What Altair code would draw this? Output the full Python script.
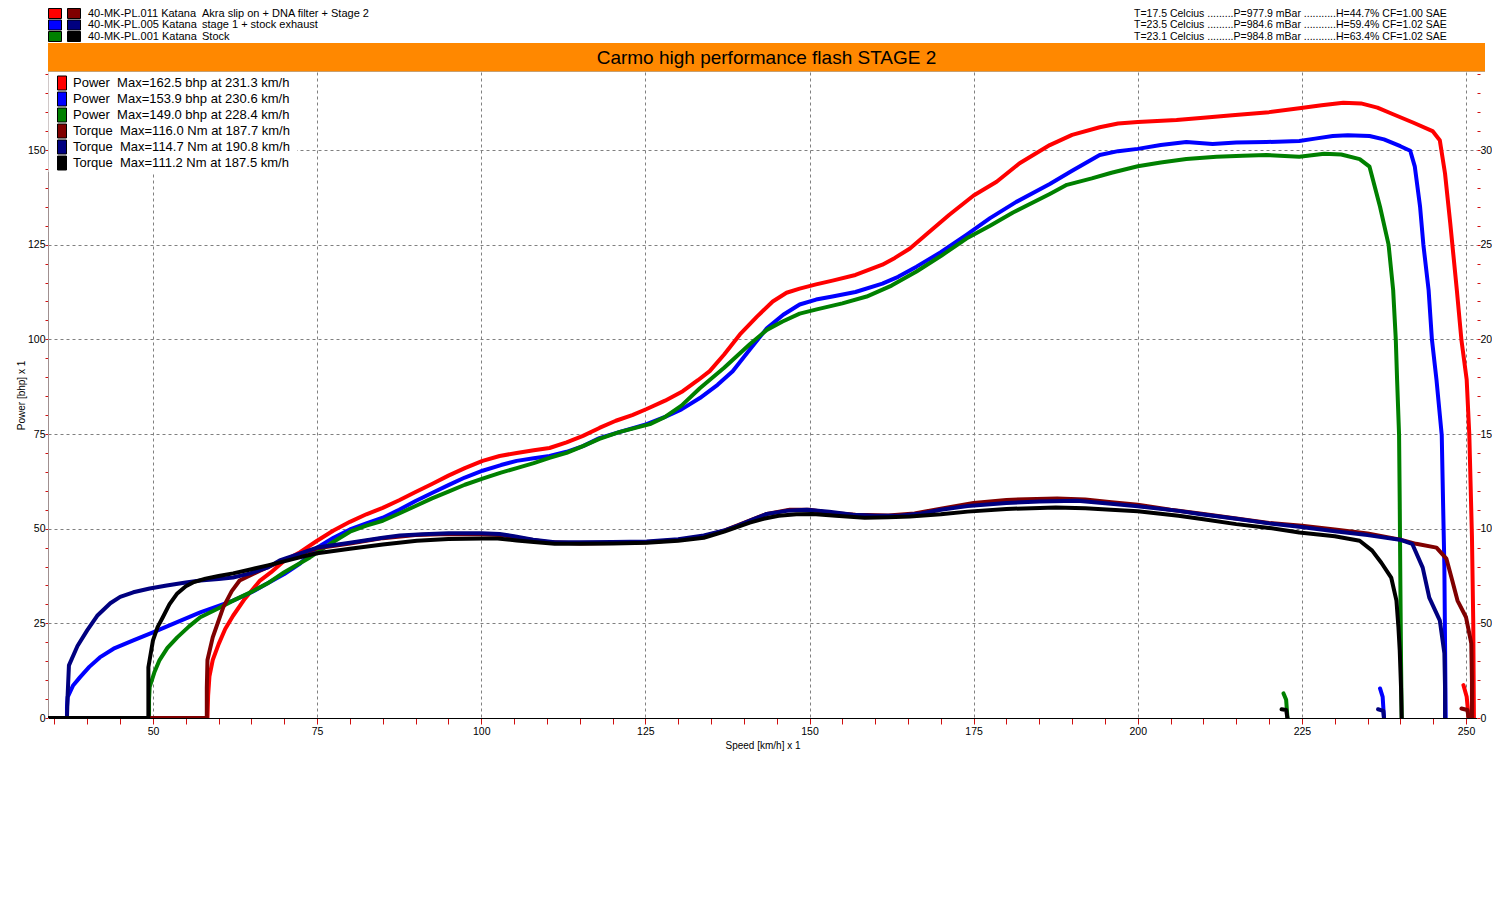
import altair as alt
import pandas as pd

FONT = "Liberation Sans"

# ---------------- header texts ----------------
runs = ["40-MK-PL.011 Katana", "40-MK-PL.005 Katana", "40-MK-PL.001 Katana"]
run_desc = ["Akra slip on + DNA filter + Stage 2", "stage 1 + stock exhaust", "Stock"]
conditions = [
    "T=17.5 Celcius .........P=977.9 mBar ...........H=44.7% CF=1.00 SAE",
    "T=23.5 Celcius .........P=984.6 mBar ...........H=59.4% CF=1.02 SAE",
    "T=23.1 Celcius .........P=984.8 mBar ...........H=63.4% CF=1.02 SAE",
]
power_colors = ["#FF0000", "#0000FF", "#008000"]
torque_colors = ["#800000", "#000080", "#000000"]
title_text = "Carmo high performance flash STAGE 2"

legend_labels = [
    "Power\u00a0 Max=162.5 bhp at 231.3 km/h",
    "Power\u00a0 Max=153.9 bhp at 230.6 km/h",
    "Power\u00a0 Max=149.0 bhp at 228.4 km/h",
    "Torque\u00a0 Max=116.0 Nm at 187.7 km/h",
    "Torque\u00a0 Max=114.7 Nm at 190.8 km/h",
    "Torque\u00a0 Max=111.2 Nm at 187.5 km/h",
]

# ---------------- power curves (km/h, bhp) ----------------
p011_speed = [58.3, 58.4, 58.6, 59.1, 60, 61, 62.2, 64, 66.3, 68, 70, 72.4, 75, 77.5, 80, 82.5, 85, 87.5, 90,
              92.5, 95, 97.5, 100.2, 102.8, 105.4, 108, 110.4, 113, 115.5, 118, 120.5, 123, 125.2, 128, 130.7,
              133, 134.8, 137, 139.4, 142, 144.4, 146.5, 148.5, 151, 153.5, 157, 161.1, 163, 165.3, 168, 171.3,
              175, 178.5, 182, 186.6, 190, 194.2, 197, 200, 205.9, 210, 214.4, 220, 224.6, 228, 231.3, 234,
              236.5, 238.8, 242, 244.9, 246, 246.8, 247.6, 248.6, 249.3, 250.1, 250.5, 250.9, 251.1, 251.2]
p011_bhp = [0, 6, 11, 15.3, 19.5, 23.5, 27, 31.5, 36.3, 38.5, 41.5, 43.8, 46.8, 49.5, 51.8, 53.8, 55.5, 57.5, 59.7,
            61.8, 64, 66, 67.9, 69.2, 70, 70.7, 71.3, 72.8, 74.5, 76.6, 78.5, 80, 81.6, 83.8, 86.3,
            89.2, 91.6, 96, 101.3, 106, 110, 112.3, 113.4, 114.5, 115.5, 117, 119.7, 121.5, 124, 128, 132.9,
            138, 141.6, 146.5, 151.3, 154, 156, 157, 157.4, 157.9, 158.5, 159.2, 160, 161, 161.8, 162.5, 162.3,
            161.2, 159.5, 157.2, 155, 152.6, 143.8, 130.6, 113, 99.8, 89.3, 74.7, 48, 25, 0]

p005_speed = [36.9, 36.9, 37, 37.8, 38.9, 40.3, 41.9, 44, 47, 50, 53.5, 57.2, 60, 62.2, 65, 67.4, 70, 72.4, 75,
              77.5, 80, 82.5, 85, 87.5, 90, 92.5, 95, 97.5, 100.2, 103, 105.4, 108, 110.4, 113, 115.5, 118, 121,
              125.2, 128, 130.5, 133.3, 136, 138.3, 141, 143.5, 146, 148.5, 151, 153.5, 157, 161.1, 163.5, 166.3,
              170, 173.9, 177.5, 181.5, 186.6, 190, 194.2, 197, 200, 203.5, 207.4, 211.4, 215, 219.6, 224.6, 227,
              229.7, 232, 235.3, 237.5, 240, 241.5, 242.2, 243, 243.5, 244.3, 244.8, 245.5, 246.3, 246.5, 246.7,
              246.8, 246.9]
p005_bhp = [0, 3, 5.5, 8.5, 10.8, 13.5, 16, 18.3, 20.5, 22.6, 25.2, 27.9, 29.6, 31, 33.2, 35.5, 38, 40.8, 45,
            47.6, 49.8, 51.4, 52.9, 55, 57.3, 59.4, 61.5, 63.5, 65.3, 66.8, 67.9, 68.6, 69.2, 70.3, 71.8, 73.9, 75.5,
            77.6, 79.5, 81.5, 84.5, 88, 91.6, 97.5, 102.9, 106.5, 109.2, 110.5, 111.3, 112.5, 114.7, 116.5, 119.2,
            123, 127.6, 132, 136.3, 141, 144.5, 148.7, 149.7, 150.3, 151.3, 152.1, 151.6, 152, 152.1, 152.4, 153,
            153.7, 153.9, 153.7, 152.8, 151, 149.8, 145.6, 135, 125, 113, 100, 89.3, 74.7, 57, 40,
            20, 0]

p001_speed = [49.4, 49.4, 49.5, 50.2, 51, 52.2, 53.7, 55.5, 57.2, 60, 62.2, 65, 67.4, 70, 73.9, 77, 80, 82.5, 85,
              87.5, 90, 92.5, 95, 97.5, 100.2, 103, 105.4, 108, 110.4, 113, 115.5, 118, 121, 125.7, 128, 130.5,
              133.3, 137, 140.9, 143.5, 145.9, 148.5, 151.1, 155, 158.7, 162.5, 166.3, 170, 173.9, 177.5, 181,
              186.6, 189.2, 193, 196, 200, 203.5, 207.4, 212, 216, 219.6, 224.6, 228.4, 231, 233.8, 235.3, 236.9,
              238.2, 238.9, 239.3, 239.5, 239.8, 239.9, 240, 240.1, 240.2]
p001_bhp = [0, 5, 8.2, 12, 15.3, 18.5, 21.3, 24.2, 26.6, 29, 31, 33.3, 35.5, 38.5, 42.4, 46, 49.2, 50.8, 52.1,
            54, 56, 58, 59.8, 61.6, 63.2, 64.8, 66, 67.3, 68.7, 70, 71.8, 73.7, 75.5, 77.6, 79.5, 82.5,
            87.1, 92.5, 98.7, 102.5, 104.7, 106.8, 107.9, 109.5, 111.3, 114.2, 117.9, 122, 126.6, 130, 133.5,
            138.4, 140.8, 142.5, 144, 145.7, 146.7, 147.6, 148.2, 148.5, 148.7, 148.2, 149, 148.8, 147.6, 145.6, 135,
            125, 113, 100, 89.3, 74.7, 57, 35, 15, 0]

# short coast-down traces at the bottom
p011_tail_speed = [249.6, 250.1, 250.4]
p011_tail_bhp = [8.7, 5.6, 0]
p005_tail_speed = [236.9, 237.3, 237.5]
p005_tail_bhp = [7.8, 5.6, 0]
p001_tail_speed = [222.2, 222.6, 222.8]
p001_tail_bhp = [6.5, 4.8, 0]

# ---------------- torque curves (km/h, Nm) ----------------
t011_speed = [34, 58.2, 58.2, 58.3, 59.1, 60.7, 62, 63.2, 66.3, 69.8, 72, 75, 80, 85, 90, 95, 100, 103, 106, 110,
              115, 120, 125, 130, 134, 137, 140, 143.5, 147, 150, 153, 157, 162, 166, 170, 175, 180, 187.7, 192,
              196, 200, 205, 210, 215, 220, 225, 230, 235, 240, 242.4, 245.5, 247, 247.9, 248.7, 250, 250.8,
              250.9, 250.9]
t011_nm = [0, 0, 16, 30.6, 42.6, 58.4, 67, 72.6, 77.8, 83.2, 86, 89.6, 92.2, 95, 96.6, 97.2, 97, 96.6, 95, 93,
           92.2, 92.4, 92.8, 94, 96, 99, 103, 107.8, 110, 110, 108.4, 107.4, 107, 108, 110.6, 113.6, 115.2, 116,
           115.4, 114, 112.6, 110, 107.8, 105.4, 103, 101.6, 99.6, 97.4, 94.2, 92, 90, 84.2, 72.6, 62, 53.2, 39.4,
           20, 0]

t005_speed = [34, 36.9, 37, 37.2, 38.5, 40, 41.5, 43.5, 45, 47, 49.5, 52.1, 55, 57.2, 60, 62.2, 64.8, 67.4, 69.3,
              72, 75, 80, 85, 87.6, 91.1, 95, 100, 102.8, 105, 107.9, 111.2, 115, 120, 125.2, 130, 133.9, 137,
              139.1, 141.5, 143.5, 146.5, 149.6, 153, 156.6, 160, 163.6, 167, 170, 174.1, 180, 185, 190.8, 195.9,
              200, 206.2, 209.4, 215, 220, 224.6, 230, 235, 239.9, 241.8, 243.4, 244.4, 246, 246.7, 246.8, 246.8]
t005_nm = [0, 0, 12, 27.8, 38, 46.4, 54, 60.6, 64, 66.4, 68.4, 70, 71.6, 72.6, 73.4, 74.2, 76.4, 79.4, 83.2,
           86.4, 90, 92.6, 95.2, 96.4, 97, 97.6, 97.6, 97.2, 96, 94.2, 92.8, 92.8, 93, 93.2, 94.4, 96.4, 99,
           101.6, 105, 107.8, 109.4, 110, 109, 107.4, 106.8, 106.8, 108, 110, 112, 113.6, 114.4, 114.7, 113.2,
           111.8, 109.4, 107.8, 105.2, 102.8, 101, 98.6, 96.6, 94.2, 92, 79.4, 63.6, 51.6, 34.2, 16, 0]

t001_speed = [34, 49.3, 49.3, 49.3, 50, 50.7, 51.5, 52.5, 53.7, 55, 56.1, 58, 60, 62.2, 65, 67.5, 69.8, 72.5, 75,
              80, 85, 90.2, 95, 100.2, 102.5, 105.4, 108, 111.2, 115, 120, 125.2, 130, 133.9, 137, 140.9, 143,
              145.3, 148, 150.5, 154, 158.4, 162, 165.3, 170, 174.1, 180, 187.5, 192, 195.9, 200, 206.2, 210, 215,
              220, 224.6, 230, 233.8, 235.7, 237.1, 238.6, 239.4, 239.7, 239.9, 240.1, 240.2]
t001_nm = [0, 0, 12, 26.8, 41, 48, 53.2, 60, 65.8, 69.6, 71.6, 73.6, 75, 76.4, 78.6, 80.6, 82.6, 85, 87,
           89.4, 91.6, 93.6, 94.6, 94.8, 94.8, 93.8, 93, 92, 92, 92.2, 92.6, 93.6, 95.2, 98.4, 103.2, 105.2,
           106.8, 107.6, 107.8, 106.8, 105.8, 106, 106.4, 107.6, 109, 110.4, 111.2, 110.8, 110, 109.2, 106.8, 105,
           102.4, 100.4, 98, 96, 93.6, 88.4, 82, 74.2, 62, 48, 35.8, 16, 0]

t011_tail_speed = [249.3, 250.2, 250.4]
t011_tail_nm = [5, 4.2, 0]
t005_tail_speed = [236.6, 237.4, 237.5]
t005_tail_nm = [4.6, 3.8, 0]
t001_tail_speed = [221.9, 222.6, 222.8]
t001_tail_nm = [4.6, 4.2, 0]

# ---------------- axis ticks ----------------
x_ticks = list(range(35, 251, 5))
y_ticks = list(range(0, 171, 5))
y2_ticks = list(range(0, 341, 10))


def frame(speed, vals, label, seg):
    return pd.DataFrame({"speed": speed, "val": vals, "series": label, "seg": seg,
                         "idx": list(range(len(speed)))})


power_df = pd.concat([
    frame(p011_speed, p011_bhp, legend_labels[0], "p011"),
    frame(p011_tail_speed, p011_tail_bhp, legend_labels[0], "p011t"),
    frame(p005_speed, p005_bhp, legend_labels[1], "p005"),
    frame(p005_tail_speed, p005_tail_bhp, legend_labels[1], "p005t"),
    frame(p001_speed, p001_bhp, legend_labels[2], "p001"),
    frame(p001_tail_speed, p001_tail_bhp, legend_labels[2], "p001t"),
], ignore_index=True)

torque_df = pd.concat([
    frame(t011_speed, t011_nm, legend_labels[3], "t011"),
    frame(t011_tail_speed, t011_tail_nm, legend_labels[3], "t011t"),
    frame(t005_speed, t005_nm, legend_labels[4], "t005"),
    frame(t005_tail_speed, t005_tail_nm, legend_labels[4], "t005t"),
    frame(t001_speed, t001_nm, legend_labels[5], "t001"),
    frame(t001_tail_speed, t001_tail_nm, legend_labels[5], "t001t"),
], ignore_index=True)

all_colors = power_colors + torque_colors
stroke_scale = alt.Scale(domain=legend_labels, range=all_colors)

W, H = 1429, 646          # plot area; band spans BAND_W
BAND_W = 1437
TICK_RED = "#D01010"
GRID = {"condition": {"test": "datum.value % 25 === 0 && datum.value > 0", "value": 1}, "value": 0}

x_axis = alt.Axis(values=x_ticks, tickCount=500, format="d",
                  labelExpr="datum.value % 25 === 0 ? datum.label : ''",
                  title="Speed [km/h] x 1", grid=True, gridOpacity=GRID,
                  gridColor="#808080", gridDash=[3, 3], gridWidth=1,
                  domainColor="#000000", domainWidth=1, tickColor=TICK_RED, tickSize=6,
                  labelPadding=2, titlePadding=4, labelOverlap=False, labelFlush=False)
x_enc = alt.X("speed:Q", scale=alt.Scale(domain=[34.01, 251.67], nice=False, zero=False), axis=x_axis)

line_kw = dict(strokeWidth=4, strokeJoin="round", strokeCap="round", clip=True)

power = alt.Chart(power_df).mark_line(**line_kw).encode(
    x=x_enc,
    y=alt.Y("val:Q", scale=alt.Scale(domain=[0, 170.6], nice=False),
            axis=alt.Axis(values=y_ticks, tickCount=500, format="d", orient="left",
                          labelExpr="datum.value % 25 === 0 ? datum.label : ''",
                          title="Power [bhp] x 1", grid=True, gridOpacity=GRID,
                          gridColor="#808080", gridDash=[3, 3], gridWidth=1,
                          domainColor="#A09090", tickColor=TICK_RED, tickSize=3, labelPadding=0,
                          titlePadding=1, labelOverlap=False, labelFlush=False)),
    stroke=alt.Stroke("series:N", scale=stroke_scale, legend=None),
    detail="seg:N",
    order="idx:Q",
)

torque = alt.Chart(torque_df).mark_line(**line_kw).encode(
    x=x_enc,
    y=alt.Y("val:Q", scale=alt.Scale(domain=[0, 341.2], nice=False),
            axis=alt.Axis(values=y2_ticks, tickCount=500, format="d", orient="right", title=None,
                          grid=False, domain=False,
                          labelExpr="datum.value % 50 === 0 ? slice(datum.label, 0, 2) : ''",
                          tickColor=TICK_RED, tickSize=3, labelPadding=0, labelOverlap=False,
                          labelFlush=False)),
    stroke=alt.Stroke("series:N", scale=stroke_scale, legend=None),
    detail="seg:N",
    order="idx:Q",
)

# white box behind the in-plot legend (hides grid lines there)
box_df = pd.DataFrame({"k": [0]})
legend_box = alt.Chart(box_df).mark_rect(color="#FFFFFF").encode(
    x=alt.value(0.5), x2=alt.value(249), y=alt.value(0), y2=alt.value(100))

layers = [legend_box, power, torque]

# orange title band
band_df = pd.DataFrame({"t": [title_text]})
layers.append(alt.Chart(band_df).mark_rect(color="#FF8800").encode(
    x=alt.value(0), x2=alt.value(BAND_W), y=alt.value(-29), y2=alt.value(-1)))
layers.append(alt.Chart(band_df).mark_rule(color="#C8A070", strokeWidth=1).encode(
    x=alt.value(0), x2=alt.value(BAND_W), y=alt.value(-0.5)))
layers.append(alt.Chart(band_df).mark_text(font=FONT, fontSize=19, color="#000000",
                                           align="center", baseline="middle").encode(
    text="t:N", x=alt.value(BAND_W / 2), y=alt.value(-14.5)))

# header run legend (top rows)
for i in range(3):
    yc = -58.5 + 11.5 * i
    row = pd.DataFrame({"run": [runs[i]], "desc": [run_desc[i]], "cond": [conditions[i]]})
    base = alt.Chart(row)
    layers.append(base.mark_rect(color=power_colors[i], stroke="#000000", strokeWidth=1).encode(
        x=alt.value(0.5), x2=alt.value(13.5), y=alt.value(yc - 5), y2=alt.value(yc + 5)))
    layers.append(base.mark_rect(color=torque_colors[i], stroke="#000000", strokeWidth=1).encode(
        x=alt.value(19.5), x2=alt.value(32.5), y=alt.value(yc - 5), y2=alt.value(yc + 5)))
    layers.append(base.mark_text(font=FONT, fontSize=11, align="left", baseline="middle",
                                 color="#000000").encode(
        text="run:N", x=alt.value(40), y=alt.value(yc)))
    layers.append(base.mark_text(font=FONT, fontSize=11, align="left", baseline="middle",
                                 color="#000000").encode(
        text="desc:N", x=alt.value(154), y=alt.value(yc)))
    layers.append(base.mark_text(font=FONT, fontSize=10.5, align="left", baseline="middle",
                                 color="#000000").encode(
        text="cond:N", x=alt.value(1086), y=alt.value(yc)))

# in-plot legend with maxima
for i in range(6):
    yc = 11 + 16 * i
    row = pd.DataFrame({"lab": [legend_labels[i]]})
    base = alt.Chart(row)
    layers.append(base.mark_rect(color=all_colors[i], stroke="#000000", strokeWidth=1).encode(
        x=alt.value(9.5), x2=alt.value(18.5), y=alt.value(yc - 7), y2=alt.value(yc + 7)))
    layers.append(base.mark_text(font=FONT, fontSize=13, align="left", baseline="middle",
                                 color="#000000").encode(
        text="lab:N", x=alt.value(25), y=alt.value(yc)))

chart = alt.layer(*layers).resolve_scale(y="independent").properties(
    width=W, height=H,
    autosize=alt.AutoSizeParams(type="none"),
    padding={"left": 40, "top": 64, "right": 15, "bottom": 170},
).configure_view(strokeWidth=0).configure_axis(
    labelFont=FONT, labelFontSize=10.5, labelColor="#000000",
    titleFont=FONT, titleFontSize=10, titleFontWeight="normal", titleColor="#000000",
)

chart.save("out.html", embed_options={"renderer": "svg", "actions": False})
